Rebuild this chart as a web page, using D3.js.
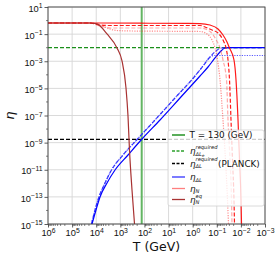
<!DOCTYPE html>
<html>
<head>
<meta charset="utf-8">
<script src="https://cdn.jsdelivr.net/npm/d3@7"></script>
<style>
  body { margin: 0; background: #fff; }
  svg { font-family: "DejaVu Sans", sans-serif; }
</style>
</head>
<body>
<div id="container"></div>
<script>
// values as [log10 T (GeV), log10 eta]
var etaNeq = [[6,-0.18],[4.258,-0.18],[3.968,-0.25],[3.553,-0.99],[3.138,-2.02],[2.931,-2.98],
  [2.765,-4.97],[2.682,-7.04],[2.620,-9.54],[2.516,-12.49],[2.412,-15]];
var etaNsolid = [[6,-0.18],[3.843,-0.18],[1.769,-0.2],[-0.304,-0.22],[-0.719,-0.33],[-1.051,-0.62],
  [-1.258,-1.065],[-1.424,-1.581],[-1.528,-2.023],[-1.714,-2.908],[-1.798,-4.382],[-1.881,-7.332],
  [-1.943,-10.281],[-2.005,-13.23],[-2.026,-15]];
var etaNdashed = [[6,-0.18],[4.258,-0.18],[3.843,-0.33],[3.429,-0.364],[-0.304,-0.364],[-0.512,-0.475],
  [-0.802,-0.696],[-1.051,-0.917],[-1.258,-1.433],[-1.383,-2.023],[-1.466,-2.908],[-1.528,-4.382],
  [-1.590,-7.332],[-1.652,-10.281],[-1.714,-13.23],[-1.735,-15]];
var etaNpale = [[6,-0.18],[4.258,-0.18],[3.843,-0.4],[3.4,-0.548],[-0.304,-0.548],[-0.719,-0.8],
  [-0.968,-1.4],[-1.134,-2.023],[-1.258,-2.908],[-1.404,-4.382],[-1.466,-7.332],[-1.548,-10.281],
  [-1.611,-13.23],[-1.631,-15]];
var etaNdotted = [[6,-0.18],[4.258,-0.18],[3.843,-0.327],[3.429,-0.622],[3.138,-0.733],[2.5,-0.77],
  [-0.304,-0.806],[-0.594,-0.991],[-0.802,-1.433],[-0.926,-2.023],[-1.030,-2.908],[-1.134,-4.382],
  [-1.258,-7.332],[-1.362,-10.281],[-1.445,-13.23],[-1.486,-15]];
var etaDLsolid = [[4.175,-15],[4.009,-13.968],[3.843,-13.009],[3.553,-11.977],[3.221,-11.018],
  [2.682,-9.912],[2.101,-8.733],[1.355,-7.332],[0.525,-5.710],[-0.304,-4.088],[-0.636,-3.424],
  [-0.926,-2.760],[-1.134,-2.318],[-1.341,-2.023],[-1.548,-2.001],[-3,-2.0]];
var etaDLdashed = [[4.196,-15],[4.051,-13.968],[3.885,-13.009],[3.636,-11.977],[3.366,-11.018],
  [2.889,-9.912],[2.288,-8.733],[1.562,-7.332],[0.733,-5.710],[-0.097,-4.088],[-0.429,-3.350],
  [-0.719,-2.687],[-0.968,-2.244],[-1.175,-2.023],[-1.548,-2.001],[-3,-2.0]];
var etaDLdotted = [[4.196,-15],[4.051,-13.968],[3.885,-13.009],[3.636,-11.977],[3.366,-11.018],
  [2.889,-9.912],[2.288,-8.733],[1.562,-7.332],[0.733,-5.710],[-0.097,-4.088],[-0.429,-3.350],
  [-0.719,-2.687],[-0.885,-2.576],[-3,-2.576]];

var Tew = 130;
var etaReqE = 1e-2;
var etaReqPlanck = 1.74e-9;

var xTickExp = [6,5,4,3,2,1,0,-1,-2,-3];
var yTickExp = [1,-1,-3,-5,-7,-9,-11,-13,-15];

var W = 280, H = 256;
var mL = 48, mR = 265, mT = 7, mB = 224;

var svg = d3.select("#container").append("svg")
  .attr("width", W).attr("height", H);

var x = d3.scaleLog().domain([1e6, 1e-3]).range([mL, mR]);
var y = d3.scaleLog().domain([1e1, 1e-15]).range([mT, mB]);

svg.append("clipPath").attr("id", "plot")
  .append("rect").attr("x", mL).attr("y", mT)
  .attr("width", mR - mL).attr("height", mB - mT);

// grid
var grid = svg.append("g");
grid.selectAll(".gx").data(xTickExp).enter().append("line")
  .attr("x1", function(d) { return x(Math.pow(10, d)); })
  .attr("x2", function(d) { return x(Math.pow(10, d)); })
  .attr("y1", mT).attr("y2", mB)
  .attr("stroke", "#d6d6d6").attr("stroke-width", 0.9);
grid.selectAll(".gy").data(yTickExp).enter().append("line")
  .attr("y1", function(d) { return y(Math.pow(10, d)); })
  .attr("y2", function(d) { return y(Math.pow(10, d)); })
  .attr("x1", mL).attr("x2", mR)
  .attr("stroke", "#d6d6d6").attr("stroke-width", 0.9);

// axes
function sup(sel, anchor) {
  sel.each(function(d) {
    var e = Math.round(Math.log10(d));
    var t = d3.select(this);
    t.text(null).attr("text-anchor", anchor);
    t.append("tspan").text("10");
    t.append("tspan").attr("dy", "-0.5em").attr("font-size", "6.8px")
      .text(e < 0 ? "\u2212" + (-e) : "" + e);
  });
}

var xMinor = [];
for (var k = -3; k < 6; k++) for (var m = 2; m < 10; m++) xMinor.push(m * Math.pow(10, k));

var gx = svg.append("g").attr("transform", "translate(0," + mB + ")")
  .call(d3.axisBottom(x).tickValues(xTickExp.map(function(e) { return Math.pow(10, e); }))
    .tickSize(3.5).tickPadding(2));
gx.selectAll(".tick text").attr("font-size", "9.3px").attr("fill", "#111").call(sup, "middle");
gx.append("g").selectAll("line").data(xMinor).enter().append("line")
  .attr("x1", function(d) { return x(d); }).attr("x2", function(d) { return x(d); })
  .attr("y1", 0).attr("y2", 2).attr("stroke", "#333").attr("stroke-width", 0.6);

var yMinor = [];
for (var j = 0; j >= -14; j -= 2) yMinor.push(Math.pow(10, j));

var gy = svg.append("g").attr("transform", "translate(" + mL + ",0)")
  .call(d3.axisLeft(y).tickValues(yTickExp.map(function(e) { return Math.pow(10, e); }))
    .tickSize(3.5).tickPadding(2));
gy.selectAll(".tick text").attr("font-size", "9.3px").attr("fill", "#111").attr("dy", "0.45em").call(sup, "end");
gy.append("g").selectAll("line").data(yMinor).enter().append("line")
  .attr("y1", function(d) { return y(d); }).attr("y2", function(d) { return y(d); })
  .attr("x1", 0).attr("x2", -2).attr("stroke", "#333").attr("stroke-width", 0.6);
svg.selectAll(".domain").remove();
svg.selectAll(".tick line").attr("stroke", "#333").attr("stroke-width", 0.8);

// curves
var plot = svg.append("g").attr("clip-path", "url(#plot)");
var line = d3.line()
  .x(function(d) { return x(Math.pow(10, d[0])); })
  .y(function(d) { return y(Math.pow(10, d[1])); })
  .curve(d3.curveMonotoneX);

function hline(v, color, dash) {
  plot.append("line").attr("x1", mL).attr("x2", mR)
    .attr("y1", y(v)).attr("y2", y(v))
    .attr("stroke", color).attr("stroke-width", 1.2).attr("stroke-dasharray", dash);
}
hline(etaReqE, "#1a8f1a", "4,2");
hline(etaReqPlanck, "#000", "4,2");

plot.append("line").attr("x1", x(Tew)).attr("x2", x(Tew))
  .attr("y1", mT).attr("y2", mB)
  .attr("stroke", "#63b563").attr("stroke-width", 2);

function curve(data, color, dash, width, op) {
  plot.append("path").datum(data).attr("d", line)
    .attr("fill", "none").attr("stroke", color).attr("stroke-width", width)
    .attr("stroke-opacity", op).attr("stroke-dasharray", dash);
}
curve(etaDLdotted, "#4848ff", "1.2,1.3", 1.2, 0.9);
curve(etaDLdashed, "#2a2aff", "4,2", 1.2, 0.9);
curve(etaDLsolid, "#0000ff", null, 1.2, 1);
curve(etaNdotted, "#ff4040", "1.2,1.3", 1.2, 0.6);
curve(etaNpale, "#ff4040", "4,2", 1.2, 0.45);
curve(etaNdashed, "#ff0000", "4,2", 1.2, 0.9);
curve(etaNsolid, "#ff0000", null, 1.2, 0.9);
curve(etaNeq, "#a83232", null, 1.2, 1);

// frame
svg.append("rect").attr("x", mL).attr("y", mT)
  .attr("width", mR - mL).attr("height", mB - mT)
  .attr("fill", "none").attr("stroke", "#444").attr("stroke-width", 0.9);

// labels
svg.append("text").attr("x", (mL + mR) / 2).attr("y", 251)
  .attr("text-anchor", "middle").attr("font-size", "12.5px").attr("fill", "#111")
  .text("T (GeV)");
svg.append("text").attr("transform", "translate(14," + ((mT + mB) / 2) + ") rotate(-90)")
  .attr("text-anchor", "middle").attr("font-size", "13px").attr("font-style", "italic")
  .attr("fill", "#111").text("\u03b7");

// legend
var lg = svg.append("g");
lg.append("rect").attr("x", 168).attr("y", 130).attr("width", 96).attr("height", 76)
  .attr("rx", 2).attr("fill", "#fff").attr("fill-opacity", 0.8)
  .attr("stroke", "#d0d0d0").attr("stroke-width", 0.8);

var rows = [
  { y: 135, color: "#008000", dash: null, op: 1 },
  { y: 151, color: "#2ca02c", dash: "3,1.5", op: 1 },
  { y: 163.5, color: "#000", dash: "3,1.5", op: 1 },
  { y: 177, color: "#0000ff", dash: null, op: 0.8 },
  { y: 188.5, color: "#ff0000", dash: null, op: 0.5 },
  { y: 199.5, color: "#a83232", dash: null, op: 1 }
];
rows.forEach(function(r) {
  lg.append("line").attr("x1", 172).attr("x2", 185).attr("y1", r.y).attr("y2", r.y)
    .attr("stroke", r.color).attr("stroke-opacity", r.op).attr("stroke-width", 1.3)
    .attr("stroke-dasharray", r.dash);
});

function txt(xp, yp, s, size, italic) {
  lg.append("text").attr("x", xp).attr("y", yp).attr("font-size", size)
    .attr("font-style", italic ? "italic" : "normal").attr("fill", "#111").text(s);
}
txt(189.5, 138, "T = 130 (GeV)", "8.8px", false);
// eta_{DeltaL_e}^{required}
txt(190, 154, "\u03b7", "8.8px", true);
txt(195.5, 155.5, "\u0394L", "5.2px", true);
txt(202, 156.5, "e", "4px", true);
txt(195.5, 148.5, "required", "5.2px", true);
// eta_{DeltaL}^{required} (PLANCK)
txt(190, 166.5, "\u03b7", "8.8px", true);
txt(195.5, 168, "\u0394L", "5.2px", true);
txt(195.5, 161, "required", "5.2px", true);
txt(218, 166.5, "(PLANCK)", "8.8px", false);
// eta_{DeltaL}
txt(190, 180, "\u03b7", "8.8px", true);
txt(195.5, 181.5, "\u0394L", "5.2px", true);
// eta_N
txt(190, 191.5, "\u03b7", "8.8px", true);
txt(195.5, 193, "N", "5.2px", true);
// eta_N^eq
txt(190, 202.5, "\u03b7", "8.8px", true);
txt(195.5, 204, "N", "5.2px", true);
txt(195.5, 197.5, "eq", "5.2px", true);
</script>
</body>
</html>
